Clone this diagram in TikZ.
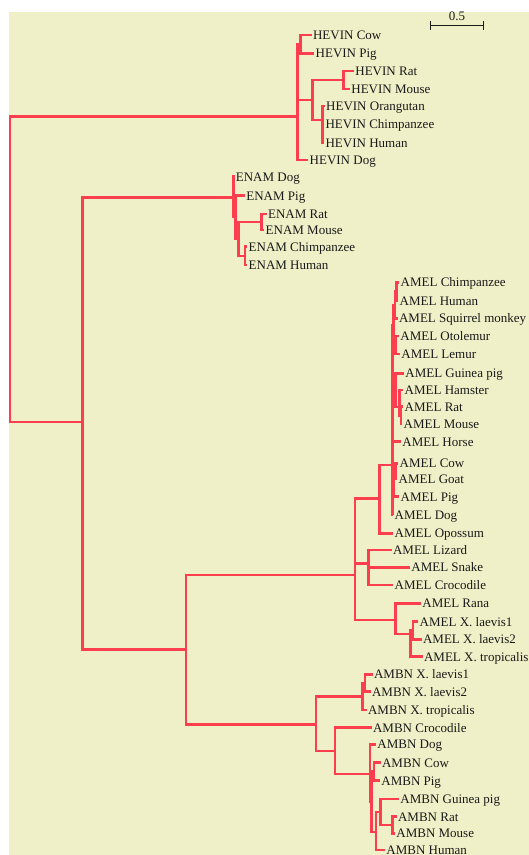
\documentclass[tikz,border=0pt]{standalone}
\usepackage{fontspec}
\setmainfont{Liberation Serif}
\definecolor{bgc}{RGB}{240,240,200}
\definecolor{brc}{RGB}{252,62,78}
\definecolor{txc}{RGB}{25,25,25}
\tikzset{
  branch/.style={draw=brc, line width=2.6bp},
  lab/.style={anchor=base west, inner sep=0pt, text=txc, font=\fontsize{13bp}{15bp}\selectfont},
  sbar/.style={draw=txc, line width=1bp}
}
\newcommand{\tleaf}[4]{\coordinate (#1) at (#2,#3); \node[lab] (#1-l) at (#2+1.2,#3+4.3) {#4};}
\newcommand{\tnode}[3]{\coordinate (#1) at (#2,#3);}
\begin{document}
\begin{tikzpicture}[x=1bp,y=-1bp]
\useasboundingbox (0,0) rectangle (529,855);
\fill[white] (0,0) rectangle (529,855);
\fill[bgc] (8.5,11.5) rectangle (529,855);
% scale bar
\coordinate (sb1) at (430.7,25.7);
\coordinate (sb2) at (483.3,25.7);
\draw[sbar] (sb1) -- (sb2);
\draw[sbar] ([yshift=4.5bp]sb1) -- ([yshift=-4.5bp]sb1);
\draw[sbar] ([yshift=4.5bp]sb2) -- ([yshift=-4.5bp]sb2);
\node[lab, anchor=base] (sbl) at (457,20.5) {0.5};
% internal nodes
\tnode{root}{9.8}{270}
\tnode{n1}{82.7}{422}
\tnode{hev}{297.3}{116.7}
\tnode{hcp}{300.7}{44}
\tnode{hrmp}{312.3}{100}
\tnode{hrm}{343.3}{80}
\tnode{hpr}{322.7}{120}
\tnode{ena}{233.3}{197.3}
\tnode{eb}{235.7}{217}
\tnode{ec}{238.3}{238.7}
\tnode{erm}{261.7}{222}
\tnode{epr}{245}{255.9}
\tnode{n2}{186}{649.3}
\tnode{amel}{355}{575}
\tnode{mam}{379.3}{498.3}
\tnode{eut}{392.3}{465}
\tnode{pri}{393.5}{325}
\tnode{anth}{395}{305}
\tnode{ch}{396.5}{291.7}
\tnode{strep}{395.2}{345}
\tnode{rod}{395.5}{395}
\tnode{r2}{399.5}{407}
\tnode{r3}{401}{415.3}
\tnode{laur}{394}{480}
\tnode{cg}{395.5}{471}
\tnode{rep}{368.3}{563.3}
\tnode{amph}{395.7}{620}
\tnode{xen}{410.7}{634}
\tnode{xl}{413}{630.5}
\tnode{ambn}{316}{724.3}
\tnode{bxen}{362.7}{696.7}
\tnode{bxl}{365}{683}
\tnode{amn}{335}{751}
\tnode{bmam}{370}{774}
\tnode{b2}{371.7}{801.7}
\tnode{bcp}{374}{771.7}
\tnode{b3}{376}{832}
\tnode{bgl}{380.7}{812}
\tnode{brm}{392.7}{825}
% leaves: HEVIN
\tleaf{hcow}{311.7}{35}{HEVIN Cow}
\tleaf{hpig}{314.3}{53.3}{HEVIN Pig}
\tleaf{hrat}{354}{71}{HEVIN Rat}
\tleaf{hmouse}{350}{89}{HEVIN Mouse}
\tleaf{horang}{324.8}{106}{HEVIN Orangutan}
\tleaf{hchimp}{324.2}{124}{HEVIN Chimpanzee}
\tleaf{hhuman}{324.2}{142.7}{HEVIN Human}
\tleaf{hdog}{308.3}{160}{HEVIN Dog}
% ENAM
\tleaf{edog}{234.5}{176.7}{ENAM Dog}
\tleaf{epig}{245}{195.7}{ENAM Pig}
\tleaf{erat}{266.7}{214}{ENAM Rat}
\tleaf{emouse}{264.3}{230}{ENAM Mouse}
\tleaf{echimp}{247.3}{246.7}{ENAM Chimpanzee}
\tleaf{ehuman}{247.3}{265}{ENAM Human}
% AMEL
\tleaf{achimp}{399.3}{282.3}{AMEL Chimpanzee}
\tleaf{ahuman}{398.3}{301}{AMEL Human}
\tleaf{asq}{397.7}{318.3}{AMEL Squirrel monkey}
\tleaf{aoto}{399}{336}{AMEL Otolemur}
\tleaf{alem}{400}{354}{AMEL Lemur}
\tleaf{agp}{404}{373.3}{AMEL Guinea pig}
\tleaf{aham}{403.3}{390}{AMEL Hamster}
\tleaf{arat}{403.3}{406.7}{AMEL Rat}
\tleaf{amouse}{402.3}{424}{AMEL Mouse}
\tleaf{ahorse}{401}{441.7}{AMEL Horse}
\tleaf{acow}{398.3}{463.3}{AMEL Cow}
\tleaf{agoat}{397.3}{479}{AMEL Goat}
\tleaf{apig}{399.3}{496.7}{AMEL Pig}
\tleaf{adog}{393.3}{515}{AMEL Dog}
\tleaf{aopo}{393.3}{533.3}{AMEL Opossum}
\tleaf{aliz}{391.7}{550}{AMEL Lizard}
\tleaf{asnake}{410}{567.3}{AMEL Snake}
\tleaf{acroc}{393.3}{585}{AMEL Crocodile}
\tleaf{arana}{421}{603.3}{AMEL Rana}
\tleaf{axl1}{418.3}{621.7}{AMEL X. laevis1}
\tleaf{axl2}{421.7}{639.3}{AMEL X. laevis2}
\tleaf{axt}{422.7}{656.7}{AMEL X. tropicalis}
% AMBN
\tleaf{bxl1}{372.7}{674.3}{AMBN X. laevis1}
\tleaf{bxl2}{370.7}{691.7}{AMBN X. laevis2}
\tleaf{bxt}{366.7}{710}{AMBN X. tropicalis}
\tleaf{bcroc}{371.7}{727.7}{AMBN Crocodile}
\tleaf{bdog}{376}{744.3}{AMBN Dog}
\tleaf{bcow}{380.7}{762.7}{AMBN Cow}
\tleaf{bpig}{380}{780.7}{AMBN Pig}
\tleaf{bgp}{399}{799}{AMBN Guinea pig}
\tleaf{brat}{396.7}{816.7}{AMBN Rat}
\tleaf{bmouse}{395}{833.3}{AMBN Mouse}
\tleaf{bhuman}{385}{850}{AMBN Human}
% branches
\draw[branch] (root) |- (hev);
\draw[branch] (root) |- (n1);
\draw[branch] (hev) |- (hcp);
\draw[branch] (hev) |- (hrmp);
\draw[branch] (hev) |- (hdog);
\draw[branch] (hcp) |- (hcow);
\draw[branch] (hcp) |- (hpig);
\draw[branch] (hrmp) |- (hrm);
\draw[branch] (hrmp) |- (hpr);
\draw[branch] (hrm) |- (hrat);
\draw[branch] (hrm) |- (hmouse);
\draw[branch] (hpr) |- (horang);
\draw[branch] (hpr) |- (hchimp);
\draw[branch] (hpr) |- (hhuman);
\draw[branch] (n1) |- (ena);
\draw[branch] (n1) |- (n2);
\draw[branch] (ena) |- (edog);
\draw[branch] (ena) |- (eb);
\draw[branch] (eb) |- (epig);
\draw[branch] (eb) |- (ec);
\draw[branch] (ec) |- (erm);
\draw[branch] (ec) |- (epr);
\draw[branch] (erm) |- (erat);
\draw[branch] (erm) |- (emouse);
\draw[branch] (epr) |- (echimp);
\draw[branch] (epr) |- (ehuman);
\draw[branch] (n2) |- (amel);
\draw[branch] (n2) |- (ambn);
\draw[branch] (amel) |- (mam);
\draw[branch] (amel) |- (rep);
\draw[branch] (amel) |- (amph);
\draw[branch] (mam) |- (eut);
\draw[branch] (mam) |- (aopo);
\draw[branch] (eut) |- (pri);
\draw[branch] (eut) |- (rod);
\draw[branch] (eut) |- (ahorse);
\draw[branch] (eut) |- (laur);
\draw[branch] (eut) |- (adog);
\draw[branch] (pri) |- (anth);
\draw[branch] (pri) |- (strep);
\draw[branch] (anth) |- (ch);
\draw[branch] (anth) |- (asq);
\draw[branch] (ch) |- (achimp);
\draw[branch] (ch) |- (ahuman);
\draw[branch] (strep) |- (aoto);
\draw[branch] (strep) |- (alem);
\draw[branch] (rod) |- (agp);
\draw[branch] (rod) |- (r2);
\draw[branch] (r2) |- (aham);
\draw[branch] (r2) |- (r3);
\draw[branch] (r3) |- (arat);
\draw[branch] (r3) |- (amouse);
\draw[branch] (laur) |- (cg);
\draw[branch] (laur) |- (apig);
\draw[branch] (cg) |- (acow);
\draw[branch] (cg) |- (agoat);
\draw[branch] (rep) |- (aliz);
\draw[branch] (rep) |- (asnake);
\draw[branch] (rep) |- (acroc);
\draw[branch] (amph) |- (arana);
\draw[branch] (amph) |- (xen);
\draw[branch] (xen) |- (xl);
\draw[branch] (xen) |- (axt);
\draw[branch] (xl) |- (axl1);
\draw[branch] (xl) |- (axl2);
\draw[branch] (ambn) |- (bxen);
\draw[branch] (ambn) |- (amn);
\draw[branch] (bxen) |- (bxl);
\draw[branch] (bxen) |- (bxt);
\draw[branch] (bxl) |- (bxl1);
\draw[branch] (bxl) |- (bxl2);
\draw[branch] (amn) |- (bcroc);
\draw[branch] (amn) |- (bmam);
\draw[branch] (bmam) |- (bdog);
\draw[branch] (bmam) |- (b2);
\draw[branch] (b2) |- (bcp);
\draw[branch] (b2) |- (b3);
\draw[branch] (bcp) |- (bcow);
\draw[branch] (bcp) |- (bpig);
\draw[branch] (b3) |- (bgl);
\draw[branch] (b3) |- (bhuman);
\draw[branch] (bgl) |- (bgp);
\draw[branch] (bgl) |- (brm);
\draw[branch] (brm) |- (brat);
\draw[branch] (brm) |- (bmouse);
\end{tikzpicture}
\end{document}
